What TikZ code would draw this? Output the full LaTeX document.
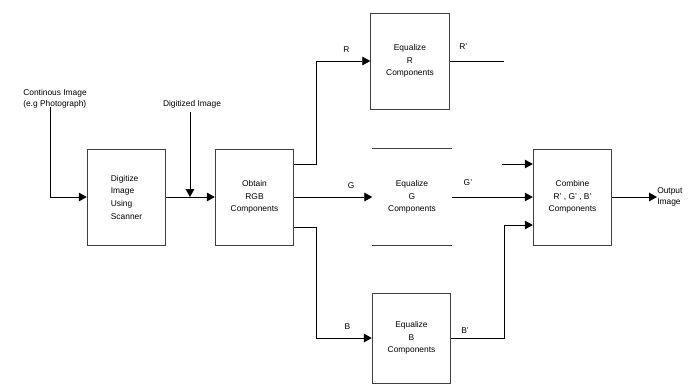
\documentclass[tikz,border=0pt]{standalone}
\usepackage{fontspec}
\setmainfont{Liberation Sans}
\usetikzlibrary{arrows.meta, positioning, calc}
\colorlet{boxline}{black!75}
\tikzset{
  blk/.style={draw=boxline, line width=0.6pt, minimum width=59pt, minimum height=72pt,
    inner sep=0pt, align=center, font=\fontsize{6.3}{9.5}\selectfont},
  lbl/.style={inner sep=0pt, font=\fontsize{6.3}{8.5}\selectfont},
  arr/.style={line width=0.6pt, -{Triangle[length=6pt,width=6.5pt]}},
  ln/.style={line width=0.6pt}
}
\begin{document}
\begin{tikzpicture}[x=0.75pt, y=-0.75pt]
    \useasboundingbox (0,0) rectangle (699,385);
    \node[blk, align=left] (dig) at (126.5,197) {Digitize\\Image\\Using\\Scanner};
    \node[blk] (obt) at (254.5,197) {Obtain\\RGB\\Components};
    \node[blk] (eqR) at (410,61) {Equalize\\R\\Components};
    \node[blk, draw=none] (eqG) at (412,197) {Equalize\\G\\Components};
    \node[blk, minimum height=67.5pt] (eqB) at (411.5,338) {Equalize\\B\\Components};
    \node[blk] (cmb) at (572.5,197) {Combine\\R' , G' , B'\\Components};
    \draw[ln, boxline] (eqG.north west) -- (eqG.north east);
    \draw[ln, boxline] (eqG.south west) -- (eqG.south east);
    \node[lbl, align=left, anchor=west] (cont) at (23,99) {Continous Image\\(e.g Photograph)};
    \node[lbl] (dimg) at (192,104) {Digitized Image};
    \node[lbl, align=left, anchor=west] (out) at (657,197) {Output\\Image};
    \coordinate (c0) at (50,107);
    \coordinate (d0) at (190,112);
    \coordinate (g0) at (502,164);
    % input side
    \draw[arr] (c0) |- (dig.west);
    \draw[arr] (dig.east) -- (obt.west);
    \draw[arr] (d0) -- (d0 |- dig.east);
    % split into R, G, B
    \draw[arr] ($(obt.east)+(0,-33)$) -- ++(22,0) |- node[lbl, pos=0.78, above=6pt] (lR) {R} (eqR.west);
    \draw[arr] (obt.east) -- node[lbl, pos=0.73, above=6pt] (lG) {G} (eqG.west);
    \draw[arr] ($(obt.east)+(0,30)$) -- ++(22,0) |- node[lbl, pos=0.78, above=6pt] (lB) {B} (eqB.west);
    % recombine
    \draw[ln] (eqR.east) -- ++(54,0) coordinate (rend) node[lbl, pos=0.25, above=8pt] (lR2) {R'};
    \draw[arr] (eqG.east) -- node[lbl, pos=0.2, above=8pt] (lG2) {G'} (cmb.west);
    \draw[arr] (g0) -- (g0 -| cmb.west);
    \draw[arr] (eqB.east) -- ++(53,0) |- ($(cmb.west)+(0,28)$);
    \node[lbl] (lB2) at (465,331) {B'};
    \draw[arr] (cmb.east) -- (out.west);
  \end{tikzpicture}
\end{document}
